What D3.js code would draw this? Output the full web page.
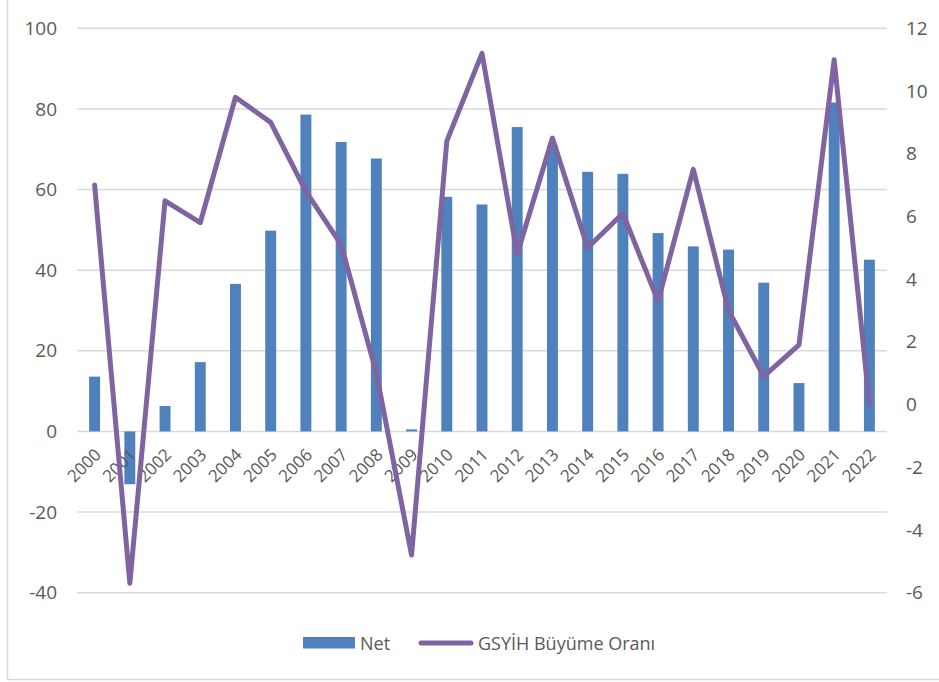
<!DOCTYPE html>
<html>
<head>
<meta charset="utf-8">
<script src="https://cdn.jsdelivr.net/npm/d3@7"></script>
<style>
  body { margin: 0; background: #fff; }
  text { font-family: "Open Sans", sans-serif; fill: #595959; }
</style>
</head>
<body>
<script>
const years = ['2000', '2001', '2002', '2003', '2004', '2005', '2006', '2007', '2008', '2009', '2010', '2011',
    '2012', '2013', '2014', '2015', '2016', '2017', '2018', '2019', '2020', '2021', '2022']
const netValues = [13.6, -13.1, 6.3, 17.2, 36.6, 49.8, 78.6, 71.8, 67.7, 0.5, 58.2, 56.3,
    75.5, 71, 64.4, 63.9, 49.2, 45.9, 45.1, 36.9, 12.0, 81.6, 42.6]
const growthValues = [7.0, -5.7, 6.5, 5.8, 9.8, 9.0, 6.8, 5.1, 1.0, -4.8, 8.4, 11.2,
    4.8, 8.5, 5.0, 6.1, 3.3, 7.5, 3.0, 0.9, 1.9, 11.0, 0.0]
const leftTicks = [-40, -20, 0, 20, 40, 60, 80, 100]
const rightTicks = [-6, -4, -2, 0, 2, 4, 6, 8, 10, 12]
const seriesNames = ['Net', 'GSYİH Büyüme Oranı']

const width = 939, height = 682
const margin = { top: 28.3, right: 52, bottom: 89.3, left: 77 }

const svg = d3.select('body').append('svg')
    .attr('width', width)
    .attr('height', height)

// chart area border
svg.append('rect')
    .attr('x', 7.5).attr('y', -2)
    .attr('width', 940).attr('height', 681.5)
    .attr('fill', 'none')
    .attr('stroke', '#d9d9d9')
    .attr('stroke-width', 1.5)

const xScale = d3.scaleBand()
    .domain(years)
    .range([margin.left, width - margin.right])

const yLeft = d3.scaleLinear()
    .domain([-40, 100])
    .range([height - margin.bottom, margin.top])

const yRight = d3.scaleLinear()
    .domain([-6, 12])
    .range([height - margin.bottom, margin.top])

// gridlines
svg.append('g')
    .selectAll('line')
    .data(leftTicks)
    .enter()
    .append('line')
    .attr('x1', margin.left)
    .attr('x2', width - margin.right)
    .attr('y1', d => yLeft(d))
    .attr('y2', d => yLeft(d))
    .attr('stroke', '#d9d9d9')
    .attr('stroke-width', 1.5)

// left axis (plain hyphen for negatives, like the original)
const leftAxis = svg.append('g')
    .attr('transform', 'translate(' + margin.left + ',0)')
    .call(d3.axisLeft(yLeft).tickValues(leftTicks).tickSize(0).tickPadding(20).tickFormat(d => String(d)))
leftAxis.select('.domain').remove()
leftAxis.selectAll('text')
    .style('font-size', '19px')
    .style('font-family', '"Open Sans", sans-serif')
    .attr('fill', '#595959')

// right axis
const rightAxis = svg.append('g')
    .attr('transform', 'translate(' + (width - margin.right) + ',0)')
    .call(d3.axisRight(yRight).tickValues(rightTicks).tickSize(0).tickPadding(19).tickFormat(d => String(d)))
rightAxis.select('.domain').remove()
rightAxis.selectAll('text')
    .style('font-size', '19px')
    .style('font-family', '"Open Sans", sans-serif')
    .attr('fill', '#595959')

// bars
const barWidth = xScale.bandwidth() * 0.31
svg.selectAll('.bar')
    .data(years)
    .enter()
    .append('rect')
    .attr('class', 'bar')
    .attr('x', d => xScale(d) + xScale.bandwidth() / 2 - barWidth / 2)
    .attr('y', (d, i) => yLeft(Math.max(0, netValues[i])))
    .attr('width', barWidth)
    .attr('height', (d, i) => Math.abs(yLeft(netValues[i]) - yLeft(0)))
    .attr('fill', '#4f81bd')

// x labels, rotated
svg.selectAll('.xlabel')
    .data(years)
    .enter()
    .append('text')
    .attr('class', 'xlabel')
    .attr('transform', d => 'translate(' + (xScale(d) + xScale.bandwidth() / 2 - 1) + ',' + (yLeft(0) + 16) + ') rotate(-45)')
    .attr('text-anchor', 'end')
    .attr('dy', '0.7em')
    .style('font-size', '17px')
    .text(d => d)

// growth line
const line = d3.line()
    .x((d, i) => xScale(years[i]) + xScale.bandwidth() / 2)
    .y(d => yRight(d))

svg.append('path')
    .datum(growthValues)
    .attr('d', line)
    .attr('fill', 'none')
    .attr('stroke', '#8064a2')
    .attr('stroke-width', 5)
    .attr('stroke-linejoin', 'round')
    .attr('stroke-linecap', 'round')

// legend
const legend = svg.append('g')
legend.append('rect')
    .attr('x', 303).attr('y', 637)
    .attr('width', 52).attr('height', 11.5)
    .attr('fill', '#4f81bd')
legend.append('text')
    .attr('x', 360).attr('y', 649.5)
    .style('font-size', '18px')
    .text(seriesNames[0])
legend.append('line')
    .attr('x1', 421).attr('x2', 471)
    .attr('y1', 643).attr('y2', 643)
    .attr('stroke', '#8064a2')
    .attr('stroke-width', 5)
    .attr('stroke-linecap', 'round')
legend.append('text')
    .attr('x', 478).attr('y', 649.5)
    .style('font-size', '18px')
    .text(seriesNames[1])
</script>
</body>
</html>
